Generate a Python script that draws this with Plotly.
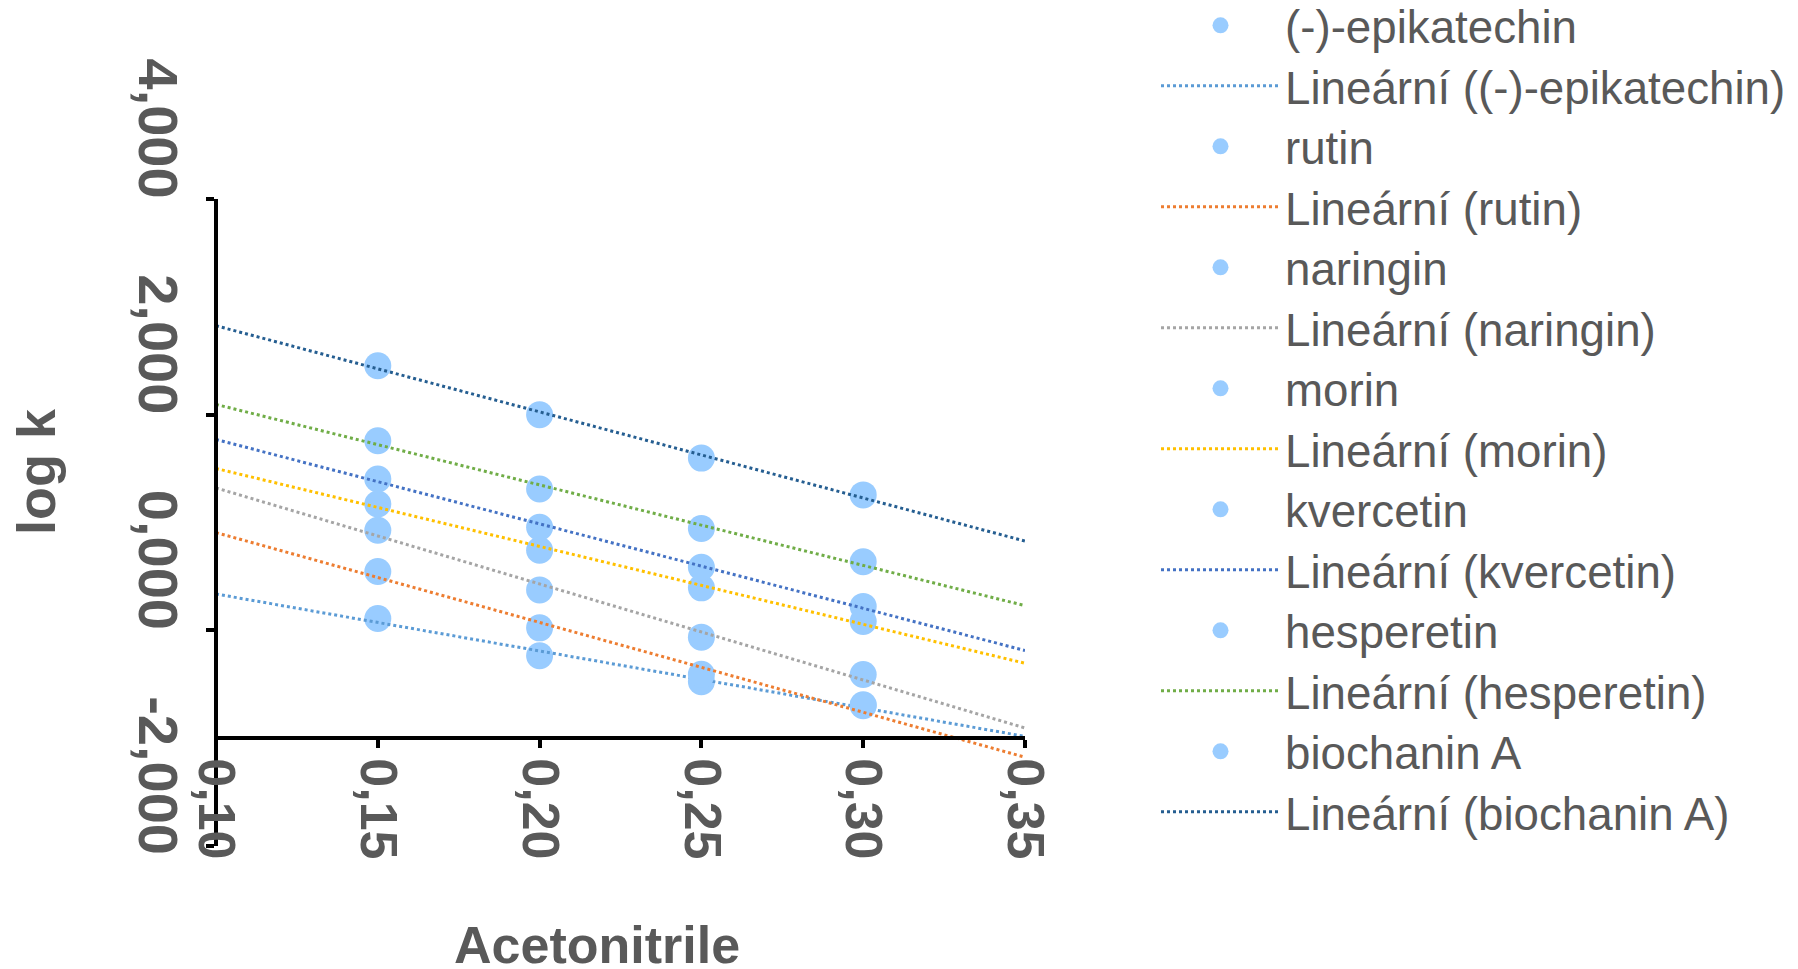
import numpy as np
import plotly.graph_objects as go

# ---- data ----
acetonitrile = [0.15, 0.20, 0.25, 0.30]
series_names = ["(-)-epikatechin", "rutin", "naringin", "morin",
                "kvercetin", "hesperetin", "biochanin A"]
epikatechin = [0.110, -0.236, -0.477, -0.690]
rutin = [0.545, 0.023, -0.408, -0.700]
naringin = [0.928, 0.375, -0.063, -0.410]
morin = [1.171, 0.743, 0.394, 0.083]
kvercetin = [1.403, 0.956, 0.585, 0.222]
hesperetin = [1.758, 1.310, 0.944, 0.636]
biochanin_a = [2.453, 1.999, 1.597, 1.256]
series_values = [epikatechin, rutin, naringin, morin, kvercetin, hesperetin, biochanin_a]

# trendline extent (forecast to the axis limits)
trend_x = [0.10, 0.35]

x_ticks = [0.10, 0.15, 0.20, 0.25, 0.30, 0.35]
y_ticks = [-2, 0, 2, 4]
y_tick_labels = ["-2,000", "0,000", "2,000", "4,000"]

# ---- styles ----
line_colors = ["#5B9BD5", "#ED7D31", "#A5A5A5", "#FFC000",
               "#4472C4", "#70AD47", "#255E91"]
marker_color = "#99CCFF"
text_color = "#595959"
font_family = "Liberation Sans, Arial, sans-serif"

W, H = 1798, 969
OFF = 8                      # page body margin of the html page
PW, PH = 809, 647            # plot area size
L, T = 216 - OFF, 199 - OFF
R, B = W - L - PW, H - T - PH


def px_x(p):
    """page pixel x -> paper coordinate"""
    return (p - OFF - L) / PW


def px_y(p):
    """page pixel y -> paper coordinate"""
    return (T + PH - (p - OFF)) / PH


# legend layout: one row per entry
LEG_FONT = 45.7
ROW0, ROW_STEP = 25.3, 60.5
LEG_TOP_OFFSET = 5 + (LEG_FONT * 1.3 + 3) / 2
legend_common = dict(
    xref="paper", yref="paper", xanchor="left", yanchor="top",
    x=px_x(1156),
    font=dict(family=font_family, size=LEG_FONT, color=text_color),
    itemwidth=119, bgcolor="rgba(0,0,0,0)", borderwidth=0,
)


def legend_id(k):
    return "legend" if k == 0 else f"legend{k + 1}"


fig = go.Figure()
legend_layouts = {}
k = 0
for name, vals, col in zip(series_names, series_values, line_colors):
    fig.add_trace(go.Scatter(
        x=acetonitrile, y=vals, mode="markers", name=name, legend=legend_id(k),
        marker=dict(color=marker_color, size=27, line=dict(width=0))))
    legend_layouts[legend_id(k)] = dict(
        y=px_y(ROW0 + k * ROW_STEP - LEG_TOP_OFFSET), **legend_common)
    k += 1
    slope, intercept = np.polyfit(acetonitrile, vals, 1)
    ty = [slope * xv + intercept for xv in trend_x]
    fig.add_trace(go.Scatter(
        x=trend_x, y=ty, mode="lines", name=f"Lineární ({name})", legend=legend_id(k),
        line=dict(color=col, width=3, dash="dot")))
    legend_layouts[legend_id(k)] = dict(
        y=px_y(ROW0 + k * ROW_STEP - LEG_TOP_OFFSET), **legend_common)
    k += 1

axis_common = dict(
    showline=True, linecolor="black", linewidth=3.5,
    ticks="outside", ticklen=8, tickwidth=3.5, tickcolor="black",
    showgrid=False, zeroline=False,
    tickangle=90,
)

fig.update_layout(
    width=W, height=H,
    margin=dict(l=L, r=R, t=T, b=B, autoexpand=False),
    paper_bgcolor="white", plot_bgcolor="white",
    separators=", ",
    font=dict(family=font_family, color=text_color),
    xaxis=dict(range=[0.10, 0.35], tickvals=x_ticks, tickformat=".2f",
               anchor="free", position=1 / 6,
               tickfont=dict(family=font_family, size=52, color=text_color, weight="bold"),
               **axis_common),
    yaxis=dict(range=[-2, 4], tickvals=y_ticks, ticktext=y_tick_labels,
               anchor="free", position=0, ticklabelshift=-62,
               tickfont=dict(family=font_family, size=56, color=text_color, weight="bold"),
               **axis_common),
    showlegend=True,
    annotations=[
        dict(text="Acetonitrile", xref="paper", yref="paper",
             x=px_x(597), y=px_y(945),
             xanchor="center", yanchor="middle", showarrow=False,
             font=dict(family=font_family, size=52, color=text_color, weight="bold")),
        dict(text="log k", xref="paper", yref="paper", textangle=-90,
             x=px_x(36), y=px_y(472),
             xanchor="center", yanchor="middle", showarrow=False,
             font=dict(family=font_family, size=54, color=text_color, weight="bold")),
    ],
)
fig.update_layout(**legend_layouts)

fig.write_html("out.html")
